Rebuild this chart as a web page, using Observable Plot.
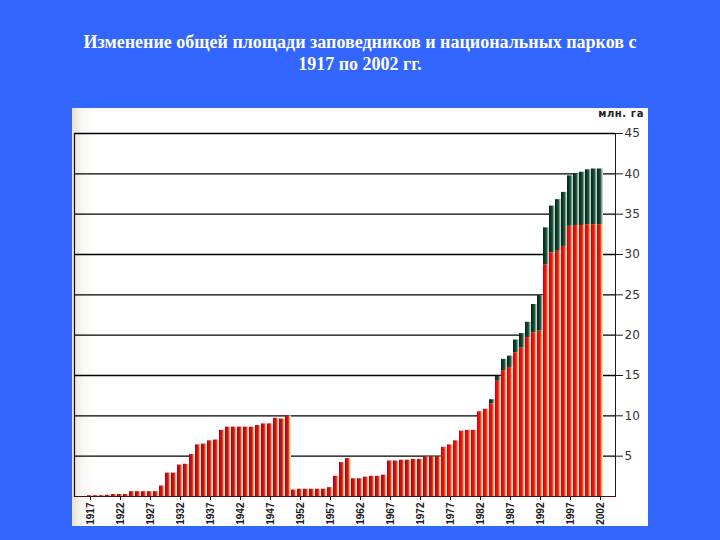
<!DOCTYPE html>
<html>
<head>
<meta charset="utf-8">
<script src="https://cdn.jsdelivr.net/npm/d3@7"></script>
<script src="https://cdn.jsdelivr.net/npm/@observablehq/plot@0.6"></script>
<style>
  html, body { margin: 0; padding: 0; }
  body { width: 720px; height: 540px; background: #3366ff; position: relative; overflow: hidden; }
  #title { position: absolute; top: 31px; left: 0; width: 720px; text-align: center; color: #fff;
    font: bold 18px "Liberation Serif", "Times New Roman", serif; line-height: 22px; }
  #panel { position: absolute; left: 72px; top: 108px; width: 576px; height: 418px;
    background: linear-gradient(to right, #e6e2da 0px, #f8f7f3 10px, #ffffff 24px); }
  #unit { position: absolute; left: 522px; top: 0px; width: 50px; text-align: right;
    font: bold 10px "DejaVu Sans", sans-serif; letter-spacing: 0.6px; color: #222; line-height: 12px; }
  #panel svg { display: block; background: transparent; }
  #panel svg [aria-label="x-axis tick label"] { font-weight: bold; font-family: "Liberation Sans", Arial, sans-serif; font-size: 10px; }
  #panel svg [aria-label="y-axis tick label"] { fill: #333; font-size: 12px; }
</style>
</head>
<body>
<div id="title">Изменение общей площади заповедников и национальных парков с<br>1917 по 2002 гг.</div>
<div id="panel"><div id="unit"></div></div>
<script>
// Categories: years
const years = [
  1917,1918,1919,1920,1921,1922,1923,1924,1925,1926,
  1927,1928,1929,1930,1931,1932,1933,1934,1935,1936,
  1937,1938,1939,1940,1941,1942,1943,1944,1945,1946,
  1947,1948,1949,1950,1951,1952,1953,1954,1955,1956,
  1957,1958,1959,1960,1961,1962,1963,1964,1965,1966,
  1967,1968,1969,1970,1971,1972,1973,1974,1975,1976,
  1977,1978,1979,1980,1981,1982,1983,1984,1985,1986,
  1987,1988,1989,1990,1991,1992,1993,1994,1995,1996,
  1997,1998,1999,2000,2001,2002
];
// Reserves (заповедники), млн. га — red part
const reserves = [
  0.1,0.1,0.1,0.15,0.25,0.25,0.25,0.6,0.6,0.6,
  0.6,0.6,1.3,2.9,2.9,3.9,4.0,5.2,6.4,6.5,
  6.9,7.0,8.2,8.6,8.6,8.6,8.6,8.6,8.8,9.0,
  9.0,9.7,9.6,10.0,0.8,0.9,0.9,0.9,0.9,0.9,
  1.1,2.5,4.2,4.7,2.2,2.2,2.4,2.5,2.5,2.65,
  4.4,4.4,4.5,4.5,4.6,4.6,4.9,4.9,4.9,6.1,
  6.4,6.9,8.1,8.2,8.2,10.5,10.8,11.5,14.3,15.6,
  16.0,17.8,18.4,19.7,20.3,20.5,28.7,30.2,30.4,31.0,
  33.5,33.6,33.6,33.7,33.7,33.7
];
// National parks (национальные парки), млн. га — green part on top
const parks = [
  0,0,0,0,0,0,0,0,0,0,
  0,0,0,0,0,0,0,0,0,0,
  0,0,0,0,0,0,0,0,0,0,
  0,0,0,0,0,0,0,0,0,0,
  0,0,0,0,0,0,0,0,0,0,
  0,0,0,0,0,0,0,0,0,0,
  0,0,0,0,0,0,0,0.5,0.6,1.4,
  1.4,1.6,1.8,1.9,3.5,4.4,4.6,5.8,6.4,6.7,
  6.25,6.4,6.6,6.8,6.9,6.9
];
const xTickYears = [1917,1922,1927,1932,1937,1942,1947,1952,1957,1962,1967,1972,1977,1982,1987,1992,1997,2002];
const yTickValues = [5,10,15,20,25,30,35,40,45];
const yUnit = "млн. га";

document.getElementById("unit").textContent = yUnit;

const rows = years.map((year, i) => ({year, reserves: reserves[i], parks: parks[i], total: reserves[i] + parks[i]}));

const chart = Plot.plot({
  width: 576,
  height: 418,
  marginTop: 25,
  marginBottom: 30,
  marginLeft: 2,
  marginRight: 33,
  style: {background: "transparent", color: "#1a1a1a", fontFamily: "DejaVu Sans, sans-serif"},
  color: {type: "identity"},
  x: {type: "band", domain: years, padding: 0.08, ticks: xTickYears, tickFormat: d => String(d), tickRotate: -90, tickSize: 4, tickPadding: 2, label: null},
  y: {domain: [0, 45], axis: "right", ticks: yTickValues, tickSize: 7, tickPadding: 2, line: true, label: null},
  marks: [
    Plot.ruleY(yTickValues, {stroke: "#000", strokeWidth: 1.4}),
    Plot.barY(rows, {x: "year", y: "reserves", fill: d => d.year < 1976 ? "url(#gRedDark)" : "url(#gRed)"}),
    Plot.barY(rows.filter(d => d.parks > 0), {x: "year", y1: "reserves", y2: "total", fill: "url(#gGreen)"}),
    Plot.ruleY([0], {stroke: "#4a1010", strokeWidth: 1}),
    Plot.frame({anchor: "left", stroke: "#111", strokeWidth: 1.2})
  ]
});

const svg = d3.select(chart.tagName.toLowerCase() === "svg" ? chart : chart.querySelector("svg"));
const defs = svg.insert("defs", ":first-child");
function grad(id, stops) {
  const g = defs.append("linearGradient").attr("id", id).attr("x1", 0).attr("x2", 1).attr("y1", 0).attr("y2", 0);
  stops.forEach(([o, c]) => g.append("stop").attr("offset", o).attr("stop-color", c));
}
grad("gRed", [["0%", "#a00a18"], ["22%", "#dc0f1a"], ["50%", "#ec1418"], ["64%", "#f2603a"], ["80%", "#f8c27a"], ["100%", "#fff4d4"]]);
grad("gRedDark", [["0%", "#8a0a20"], ["22%", "#b80f24"], ["50%", "#d0141e"], ["64%", "#e8603a"], ["80%", "#f6c27a"], ["100%", "#fff4d4"]]);
grad("gGreen", [["0%", "#08241a"], ["35%", "#12392a"], ["58%", "#285a44"], ["78%", "#7fae98"], ["100%", "#e4f3ec"]]);

document.getElementById("panel").appendChild(chart);
</script>
</body>
</html>
